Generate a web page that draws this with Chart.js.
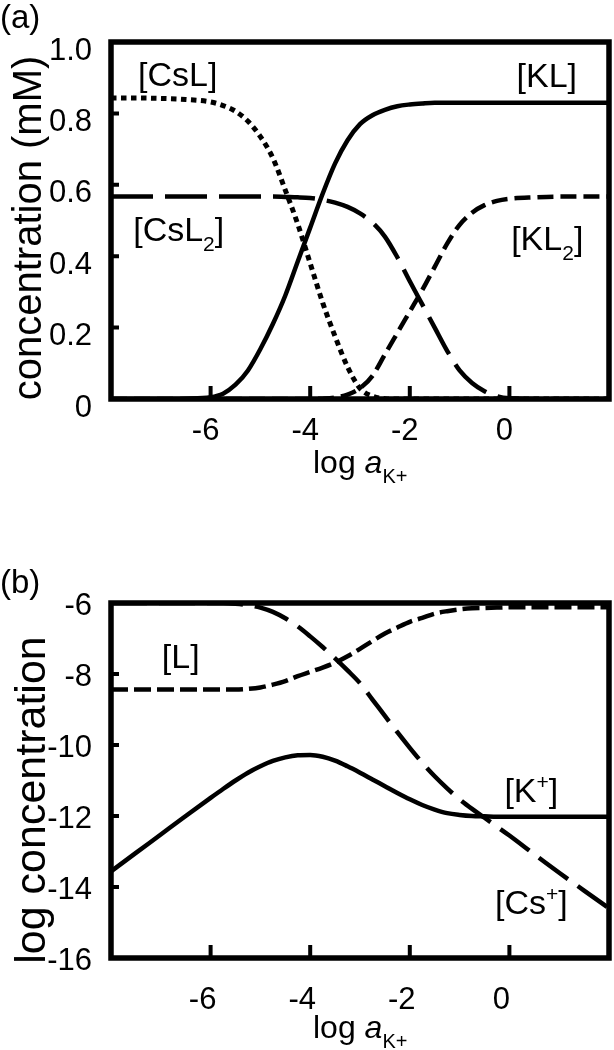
<!DOCTYPE html>
<html>
<head>
<meta charset="utf-8">
<script src="https://cdn.jsdelivr.net/npm/chart.js@4.4.0/dist/chart.umd.min.js"></script>
<style>
html, body { margin: 0; padding: 0; background: #fff; }
#hoja { position: relative; width: 614px; height: 1050px; }
canvas { position: absolute; left: 0; }
</style>
</head>
<body>
<div id="hoja">
  <canvas id="plotA" width="614" height="510" style="top:0px"></canvas>
  <canvas id="plotB" width="614" height="540" style="top:510px"></canvas>
</div>
<script>
// eje x comun: log a(K+)
let logA = [-8, -7.5, -7, -6.5, -6, -5.75, -5.5, -5.25, -5, -4.75, -4.5, -4.25, -4, -3.75, -3.5, -3.25, -3,
            -2.75, -2.5, -2.25, -2, -1.75, -1.5, -1.25, -1, -0.75, -0.5, -0.25, 0, 0.5, 1, 1.5, 2];
let xTicks = [-6, -4, -2, 0];

// (a) concentraciones en mM
let concKL   = [0, 0, 0, 0.001, 0.005, 0.015, 0.04, 0.08, 0.14, 0.21, 0.29, 0.385, 0.48, 0.575, 0.66, 0.725, 0.77,
                0.795, 0.81, 0.82, 0.825, 0.828, 0.83, 0.83, 0.83, 0.83, 0.83, 0.83, 0.83, 0.83, 0.83, 0.83, 0.83];
let concCsL  = [0.843, 0.843, 0.842, 0.839, 0.832, 0.822, 0.806, 0.778, 0.735, 0.675, 0.585, 0.49, 0.38, 0.27, 0.175, 0.09, 0.03,
                0.008, 0.001, 0, 0, 0, 0, 0, 0, 0, 0, 0, 0, 0, 0, 0, 0];
let concCsL2 = [0.567, 0.567, 0.567, 0.567, 0.567, 0.567, 0.567, 0.567, 0.567, 0.567, 0.566, 0.565, 0.563, 0.558, 0.55, 0.538, 0.52,
                0.494, 0.455, 0.397, 0.33, 0.265, 0.2, 0.135, 0.08, 0.045, 0.022, 0.008, 0.002, 0, 0, 0, 0];
let concKL2  = [0, 0, 0, 0, 0, 0, 0, 0, 0, 0, 0, 0, 0, 0.001, 0.004, 0.012, 0.03,
                0.065, 0.125, 0.185, 0.245, 0.305, 0.37, 0.435, 0.488, 0.522, 0.543, 0.555, 0.561, 0.565, 0.567, 0.567, 0.567];
let yTicksA = [0, 0.2, 0.4, 0.6, 0.8, 1.0];

// (b) log concentracion
let logL   = [-8.44, -8.44, -8.44, -8.44, -8.44, -8.44, -8.44, -8.42, -8.38, -8.3, -8.2, -8.06, -7.94, -7.82, -7.68, -7.5, -7.29,
              -7.07, -6.86, -6.69, -6.53, -6.42, -6.3, -6.23, -6.18, -6.15, -6.14, -6.13, -6.12, -6.12, -6.12, -6.12, -6.12];
let logCs  = [-6, -6, -6, -6, -6, -6, -6.02, -6.06, -6.13, -6.25, -6.43, -6.66, -6.94, -7.24, -7.56, -7.9, -8.26,
              -8.72, -9.18, -9.64, -10.08, -10.5, -10.88, -11.22, -11.53, -11.8, -12.05, -12.3, -12.55, -13.08, -13.6, -14.1, -14.6];
let logK   = [-13.56, -13.04, -12.52, -12.0, -11.49, -11.24, -11.0, -10.78, -10.6, -10.45, -10.35, -10.29, -10.28, -10.33, -10.44, -10.6, -10.78,
              -10.97, -11.16, -11.35, -11.53, -11.69, -11.82, -11.92, -11.97, -12.0, -12.01, -12.02, -12.02, -12.02, -12.02, -12.02, -12.02];
let yTicksB = [-16, -14, -12, -10, -8, -6];

let fuente = '"Liberation Sans", Arial, Helvetica, sans-serif';

let puntos = (ys) => logA.map((x, i) => ({x: x, y: ys[i]}));

// dibuja texto con partes de distinto tamano (sub/superindices)
let textoRico = (ctx, partes, x, y, centrado) => {
    let fontDe = (p) => (p.it ? 'italic ' : '') + p.s + 'px ' + fuente;
    let ancho = 0;
    partes.forEach(p => { ctx.font = fontDe(p); ancho += ctx.measureText(p.t).width; });
    let cx = centrado ? x - ancho / 2 : x;
    ctx.textAlign = 'left';
    partes.forEach(p => {
        ctx.font = fontDe(p);
        ctx.fillText(p.t, cx, y + (p.dy || 0));
        cx += ctx.measureText(p.t).width;
    });
};

let tituloX = [{t: 'log ', s: 32}, {t: 'a', s: 32, it: true}, {t: 'K+', s: 20, dy: 10}];

let marco = (cfg) => ({
    id: 'marco',
    afterDraw(chart) {
        let ctx = chart.ctx;
        let a = chart.chartArea;
        let sx = chart.scales.x, sy = chart.scales.y;
        ctx.save();
        ctx.strokeStyle = '#000';
        ctx.fillStyle = '#000';
        ctx.lineWidth = 5.5;
        ctx.strokeRect(a.left, a.top, a.right - a.left, a.bottom - a.top);
        // marcas interiores
        ctx.lineWidth = 4;
        ctx.beginPath();
        xTicks.forEach(v => {
            let px = sx.getPixelForValue(v);
            ctx.moveTo(px, a.bottom);
            ctx.lineTo(px, a.bottom - 13);
        });
        cfg.marcasY.forEach(v => {
            let py = sy.getPixelForValue(v);
            ctx.moveTo(a.left, py);
            ctx.lineTo(a.left + 8, py);
        });
        ctx.stroke();

        // etiquetas de las curvas
        ctx.textBaseline = 'middle';
        cfg.etiquetas.forEach(e => {
            textoRico(ctx, e.partes, sx.getPixelForValue(e.x), sy.getPixelForValue(e.y), true);
        });

        // titulos
        ctx.textBaseline = 'alphabetic';
        textoRico(ctx, tituloX, 313, cfg.baseX, false);
        ctx.save();
        ctx.translate(cfg.yTitulo[0], cfg.yTitulo[1]);
        ctx.rotate(-Math.PI / 2);
        ctx.textBaseline = 'middle';
        ctx.font = cfg.yTitulo[2] + 'px ' + fuente;
        ctx.textAlign = 'center';
        ctx.fillText(cfg.yTexto, 0, 0);
        ctx.restore();

        ctx.textBaseline = 'alphabetic';
        ctx.textAlign = 'left';
        ctx.font = '33px ' + fuente;
        ctx.fillText(cfg.panel, 0, cfg.basePanel);
        ctx.restore();
    }
});

let crearGrafico = (id, cfg) => {
    return new Chart(document.getElementById(id), {
        type: 'line',
        data: {
            datasets: cfg.series.map(s => ({
                data: puntos(s.datos),
                borderColor: '#000',
                borderWidth: s.ancho || 4.5,
                borderDash: s.dash,
                pointRadius: 0,
                fill: false,
                cubicInterpolationMode: 'monotone'
            }))
        },
        options: {
            responsive: false,
            animation: false,
            devicePixelRatio: 1,
            layout: {padding: {top: cfg.arriba, right: 5, left: 0, bottom: 0}},
            plugins: {legend: {display: false}, tooltip: {enabled: false}},
            scales: {
                x: {
                    type: 'linear', min: -8, max: 2,
                    grid: {display: false, drawTicks: false},
                    border: {display: false},
                    afterBuildTicks: (s) => { s.ticks = xTicks.map(v => ({value: v})); },
                    afterFit: (s) => { s.height = cfg.altoX; },
                    ticks: {
                        color: '#000', font: {family: fuente, size: 31},
                        padding: cfg.padX, labelOffset: cfg.offX,
                        maxRotation: 0, autoSkip: false,
                        callback: (v) => String(v)
                    }
                },
                y: {
                    type: 'linear', min: cfg.yMin, max: cfg.yMax,
                    grid: {display: false, drawTicks: false},
                    border: {display: false},
                    afterBuildTicks: (s) => { s.ticks = cfg.yTicks.map(v => ({value: v})); },
                    afterFit: (s) => { s.width = 111; },
                    ticks: {
                        color: '#000', font: {family: fuente, size: 31},
                        padding: 19, labelOffset: cfg.offY, autoSkip: false,
                        callback: cfg.formatoY
                    }
                }
            }
        },
        plugins: [marco(cfg)]
    });
};

crearGrafico('plotA', {
    arriba: 42, altoX: 111, padX: 14, offX: -5, offY: 9,
    yMin: 0, yMax: 1, yTicks: yTicksA, marcasY: [0.2, 0.4, 0.6, 0.8],
    formatoY: (v) => v === 0 ? '0' : v.toFixed(1),
    series: [
        {datos: concKL, dash: []},
        {datos: concCsL, dash: [5.5, 4.5], ancho: 5},
        {datos: concCsL2, dash: [42, 12]},
        {datos: concKL2, dash: [16, 7]}
    ],
    etiquetas: [
        {x: -6.66, y: 0.903, partes: [{t: '[CsL]', s: 34}]},
        {x: -6.64, y: 0.469, partes: [{t: '[CsL', s: 34}, {t: '2', s: 21, dy: 14}, {t: ']', s: 34}]},
        {x: 0.75, y: 0.899, partes: [{t: '[KL]', s: 34}]},
        {x: 0.76, y: 0.444, partes: [{t: '[KL', s: 34}, {t: '2', s: 21, dy: 14}, {t: ']', s: 34}]}
    ],
    baseX: 473, yTitulo: [30, 228, 40], yTexto: 'concentration (mM)',
    panel: '(a)', basePanel: 28
});

crearGrafico('plotB', {
    arriba: 93, altoX: 92, padX: 24, offX: -8, offY: 3,
    yMin: -16, yMax: -6, yTicks: yTicksB, marcasY: [-14, -12, -10, -8],
    formatoY: (v) => String(v),
    series: [
        {datos: logK, dash: []},
        {datos: logL, dash: [17, 6]},
        {datos: logCs, dash: [36, 12]}
    ],
    etiquetas: [
        {x: -6.6, y: -7.57, partes: [{t: '[L]', s: 34}]},
        {x: 0.44, y: -11.34, partes: [{t: '[K', s: 34}, {t: '+', s: 21, dy: -9}, {t: ']', s: 34}]},
        {x: 0.44, y: -14.49, partes: [{t: '[Cs', s: 34}, {t: '+', s: 21, dy: -9}, {t: ']', s: 34}]}
    ],
    baseX: 528, yTitulo: [33, 290, 43], yTexto: 'log concentration',
    panel: '(b)', basePanel: 83
});
</script>
</body>
</html>
